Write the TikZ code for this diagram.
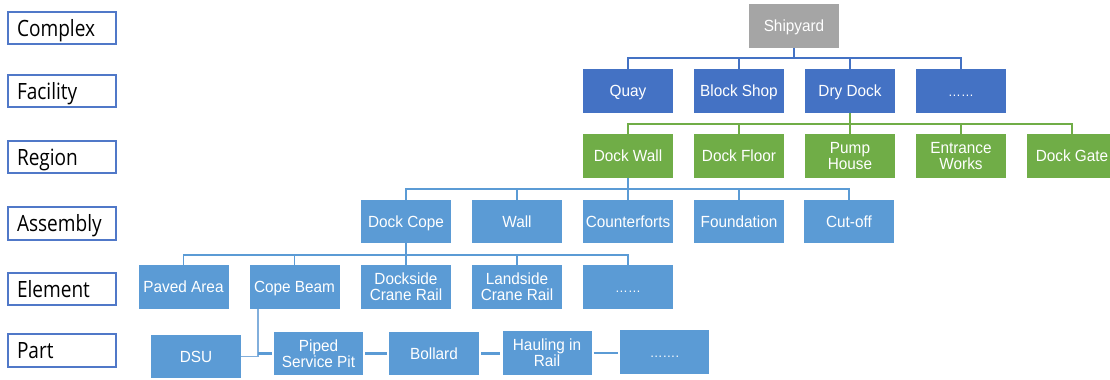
\documentclass[tikz,border=0pt]{standalone}
\usepackage{fontspec}
\setmainfont{Liberation Sans}
\newfontfamily\labfont[FakeStretch=0.85]{Open Sans}
\newfontfamily\boxfont[FakeStretch=0.95]{Liberation Sans}
\definecolor{facblue}{RGB}{68,114,196}
\definecolor{regreen}{RGB}{112,173,71}
\definecolor{lblue}{RGB}{91,155,213}
\definecolor{thinblue}{RGB}{130,175,220}
\definecolor{shipgray}{RGB}{165,165,165}
\definecolor{labborder}{RGB}{80,120,200}
\tikzset{
  lab/.style={draw=labborder, line width=1.4bp, fill=white, text width=90bp, inner xsep=9bp, inner ysep=0pt,
    minimum height=32bp, align=left, font=\labfont\fontsize{22.5}{24}\selectfont, text=black,
    text height=16bp, text depth=0pt},
  box/.style={minimum width=90bp, minimum height=44bp, inner sep=0pt, align=center, text=white,
    font=\boxfont\fontsize{16.2}{16}\selectfont},
  one/.style={text height=11.6bp, text depth=0pt},
  dots/.style={one, font=\boxfont\fontsize{13.5}{14}\selectfont},
  shipbox/.style={box, fill=shipgray},
  facbox/.style={box, fill=facblue},
  regbox/.style={box, fill=regreen},
  asmbox/.style={box, fill=lblue},
  fbus/.style={draw=facblue, line width=1.8bp},
  gbus/.style={draw=regreen, line width=1.8bp},
  abus/.style={draw=lblue, line width=1.8bp},
  thinline/.style={draw=thinblue, line width=1.5bp},
  thickline/.style={draw=lblue, line width=3bp, shorten <=2bp, shorten >=2bp},
  midline/.style={draw=lblue, line width=2bp, shorten <=2bp, shorten >=2bp},
}
\begin{document}
\begin{tikzpicture}[x=1bp, y=-1bp]
\useasboundingbox (0,0) rectangle (1110,379);
\clip (0,0) rectangle (1110,379);

% level labels
\node[lab] (lcomplex) at (62,28) {Complex};
\node[lab] (lfacility) at (62,91) {Facility};
\node[lab] (lregion) at (62,157) {Region};
\node[lab, minimum height=33bp] (lassembly) at (62,223.5) {Assembly};
\node[lab] (lelement) at (62,289) {Element};
\node[lab, minimum height=33bp] (lpart) at (62,350.5) {Part};

% complex
\node[shipbox, one] (ship) at (794,26) {Shipyard};

% facility
\node[facbox, one] (quay) at (628,91) {Quay};
\node[facbox, one] (block) at (739,91) {Block Shop};
\node[facbox, one] (dry) at (850,91) {Dry Dock};
\node[facbox, dots] (fdots) at (961,91) {……};

% region
\node[regbox, one] (dwall) at (628,156) {Dock Wall};
\node[regbox, one] (dfloor) at (739,156) {Dock Floor};
\node[regbox] (pump) at (850,156) {Pump\\House};
\node[regbox] (entr) at (961,156) {Entrance\\Works};
\node[regbox, one] (gate) at (1072,156) {Dock Gate};

% assembly
\node[asmbox, one, minimum height=43bp] (cope) at (406,221.5) {Dock Cope};
\node[asmbox, one, minimum height=43bp] (wall) at (517,221.5) {Wall};
\node[asmbox, one, minimum height=43bp] (counter) at (628,221.5) {Counterforts};
\node[asmbox, one, minimum height=43bp] (found) at (739,221.5) {Foundation};
\node[asmbox, one, minimum height=43bp] (cutoff) at (849,221.5) {Cut-off};

% element
\node[asmbox, one] (paved) at (183.5,287) {Paved Area};
\node[asmbox, one] (cbeam) at (294.5,287) {Cope Beam};
\node[asmbox] (dside) at (406,287) {Dockside\\Crane Rail};
\node[asmbox] (lside) at (517,287) {Landside\\Crane Rail};
\node[asmbox, dots] (edots) at (628,287) {……};

% part
\node[asmbox, one, minimum height=43bp] (dsu) at (196,356.5) {DSU};
\node[asmbox, minimum height=43bp, minimum width=89bp] (piped) at (318.5,353.5) {Piped\\Service Pit};
\node[asmbox, one, minimum height=43bp] (bollard) at (434,353.5) {Bollard};
\node[asmbox, minimum height=44bp, minimum width=89bp] (haul) at (547,353) {Hauling in\\Rail};
\node[asmbox, dots, minimum height=44bp, minimum width=89bp] (pdots) at (664.5,351.5) {…….};

% connectors complex -> facility
\foreach \c in {quay,block,dry,fdots}
  \draw[fbus] (ship.south) -- ++(0,10) -| (\c.north);

% facility -> region
\foreach \c in {dwall,dfloor,pump,entr,gate}
  \draw[gbus] (dry.south) -- ++(0,11) -| (\c.north);

% region -> assembly
\foreach \c in {cope,wall,counter,found,cutoff}
  \draw[abus] (dwall.south) -- ++(0,11) -| (\c.north);

% assembly -> element
\foreach \c in {paved,cbeam,dside,lside,edots}
  \draw[abus] (cope.south) -- ++(0,12) -| (\c.north);

% element -> part
\coordinate (j) at (258,357);
\draw[thinline] (cbeam.south -| j) -- (j);
\draw[thinline] (dsu.east) -- (dsu.east -| j);
\draw[thickline, shorten <=0bp] (piped.west -| j) -- (piped.west);
\draw[thickline] (piped.east) -- (bollard.west);
\draw[thickline] (bollard.east) -- (haul.west |- bollard.east);
\draw[midline] (haul.east) -- (pdots.west |- haul.east);
\end{tikzpicture}
\end{document}
